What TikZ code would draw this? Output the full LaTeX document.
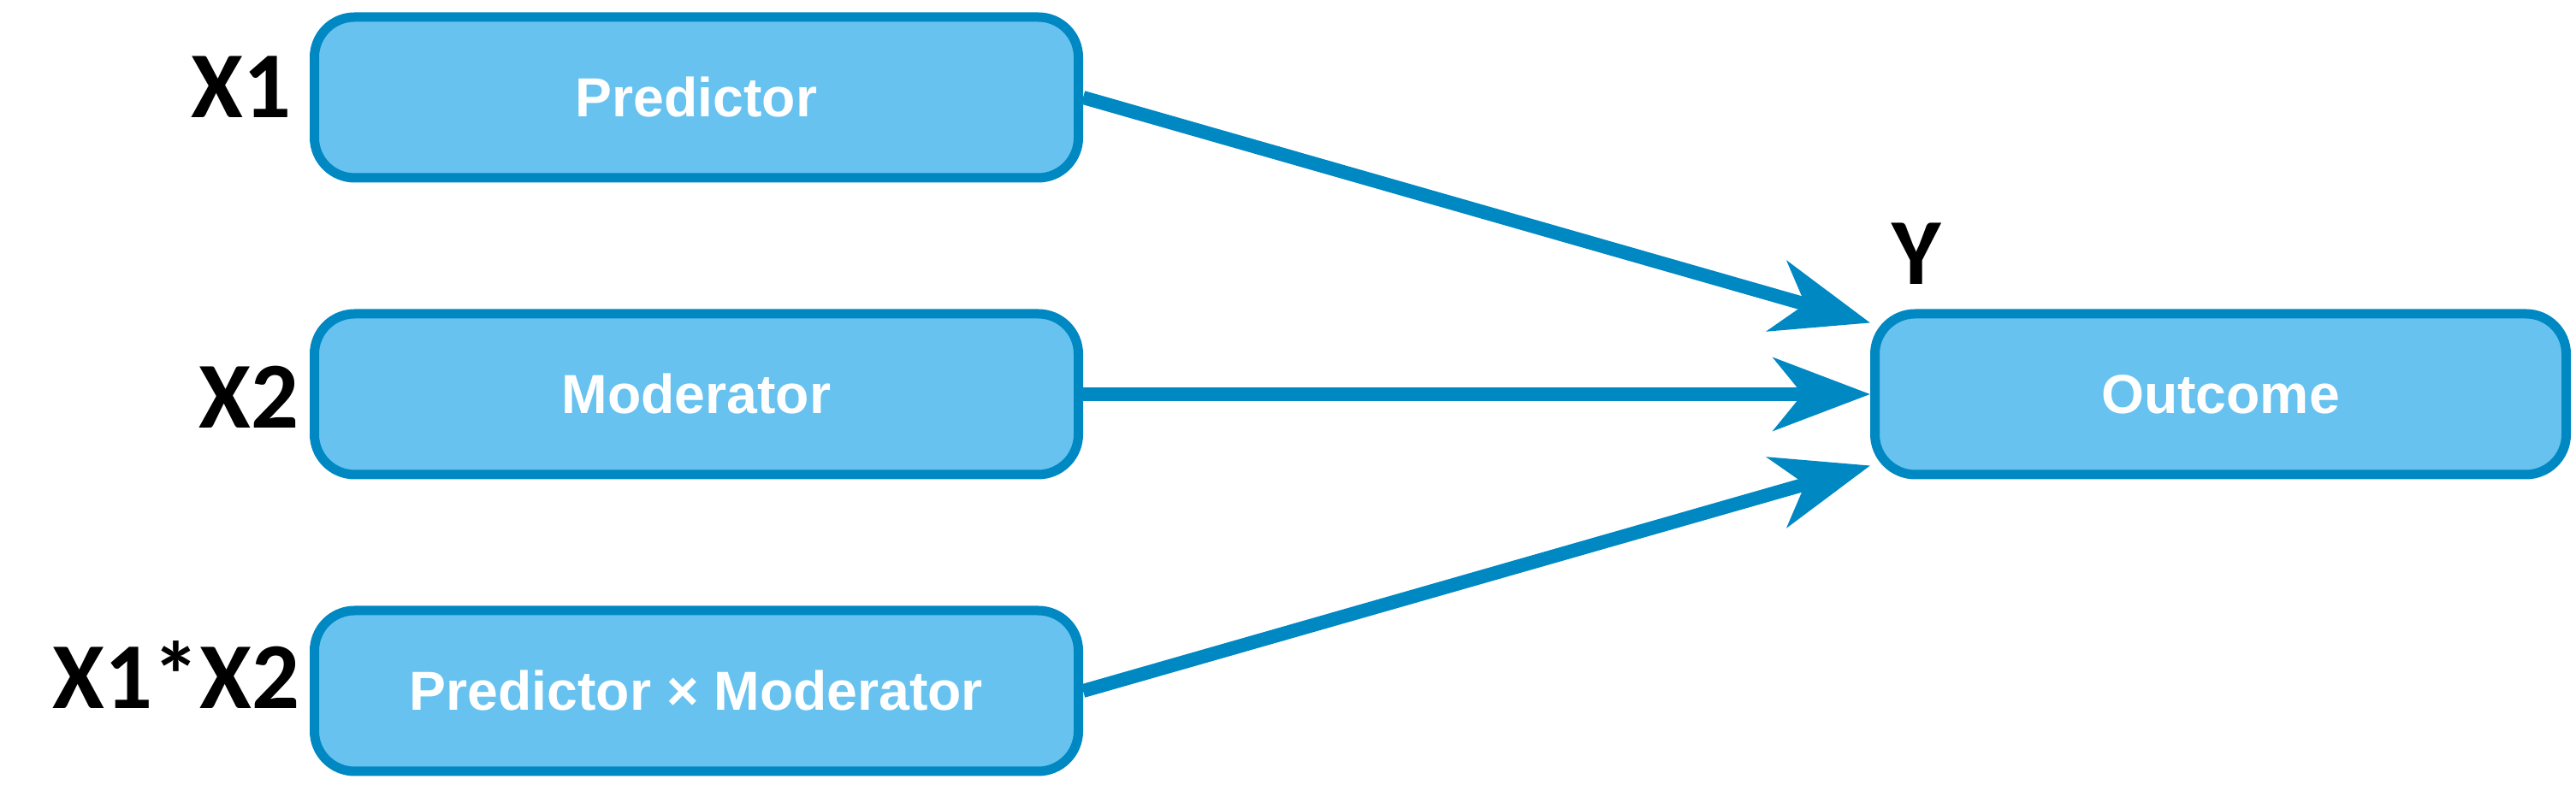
\documentclass[tikz,border=0pt]{standalone}
\usepackage{fontspec}
\setmainfont{Liberation Sans}
\newfontfamily\lblfont{Carlito}
\usepackage{xcolor}
\usepackage{tikz}
\usetikzlibrary{arrows.meta}
\definecolor{boxfill}{HTML}{67C2EF}
\definecolor{boxline}{HTML}{0088C3}

\begin{document}
\begin{tikzpicture}[
    box/.style={draw=boxline, fill=boxfill, line width=0.11cm, rounded corners=0.47cm,
      minimum width=8.93cm, minimum height=1.88cm, inner sep=0pt, text=white,
      font=\fontsize{18.3}{22}\selectfont\bfseries},
    lbl/.style={font=\lblfont\fontsize{31.4}{36}\selectfont\bfseries, inner sep=0pt},
    link/.style={draw=boxline, line width=0.16cm,
      -{Stealth[length=1.13cm, width=0.85cm, inset=0.34cm]}}]
          \useasboundingbox (0,0) rectangle (30.11,9.25);

          \node[box] (pred) at (8.14,8.11) {Predictor};
          \node[box] (mod) at (8.14,4.64) {Moderator};
          \node[box] (inter) at (8.14,1.17) {Predictor × Moderator};
          \node[box, minimum width=8.08cm] (out) at (25.955,4.64) {Outcome};

          \node[lbl, anchor=base east] (x1) at (3.41,7.87) {X1};
          \node[lbl, anchor=base east] (x2) at (3.50,4.24) {X2};
          \node[lbl, anchor=base east] (x12) at (3.51,0.96) {X1*X2};
          \node[lbl, anchor=base] (y) at (22.40,5.92) {Y};

          \draw[link] (pred.east) -- ([yshift=-0.16cm]out.north west);
          \draw[link] (mod.east) -- (out.west);
          \draw[link] (inter.east) -- ([yshift=0.16cm]out.south west);
        \end{tikzpicture}
\end{document}
